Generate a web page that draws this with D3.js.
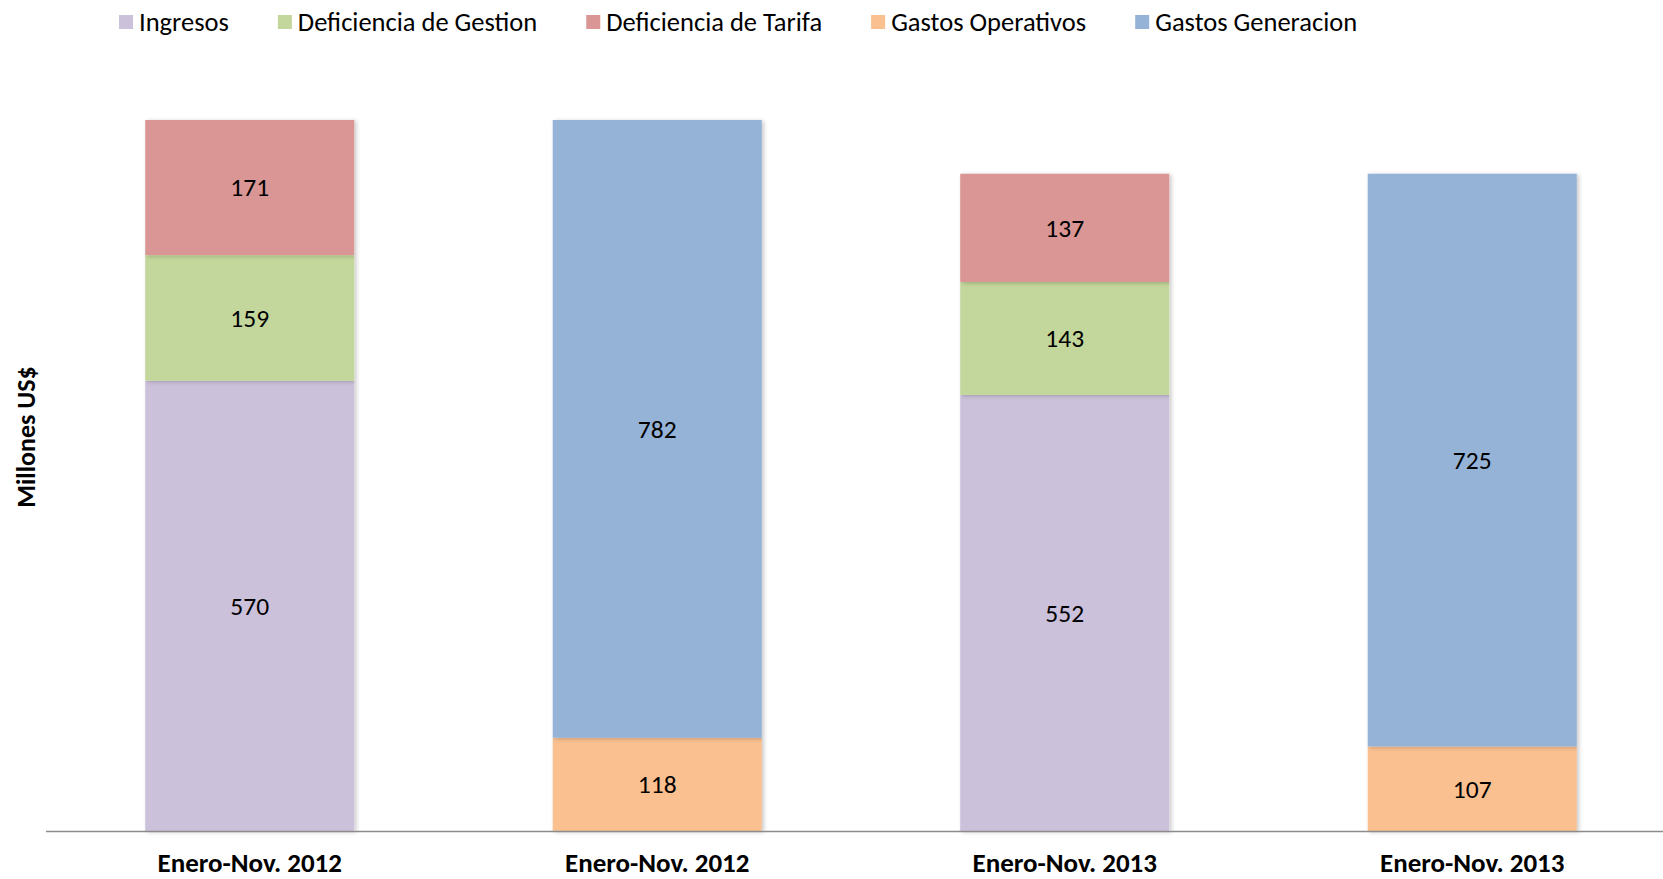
<!DOCTYPE html>
<html>
<head>
<meta charset="utf-8">
<script src="https://cdn.jsdelivr.net/npm/d3@7"></script>
<style>
  html, body { margin: 0; padding: 0; background: #fff; }
  svg { display: block; font-family: Carlito, Lato, "Open Sans", sans-serif; }
</style>
</head>
<body>
<div id="chart"></div>
<script>
// categories (x axis) and series, bottom to top of each stack
const categories = ["Enero-Nov. 2012", "Enero-Nov. 2012", "Enero-Nov. 2013", "Enero-Nov. 2013"];
const seriesNames = ["Ingresos", "Deficiencia de Gestion", "Deficiencia de Tarifa", "Gastos Operativos", "Gastos Generacion"];
const ingresos    = [570, 0, 552, 0];
const defGestion  = [159, 0, 143, 0];
const defTarifa   = [171, 0, 137, 0];
const gastosOper  = [0, 118, 0, 107];
const gastosGen   = [0, 782, 0, 725];
const seriesColors = ["#CCC1DA", "#C3D69B", "#D99694", "#FAC090", "#95B3D7"];

const W = 1663, H = 879;
const baseY = 831, topY = 120;

const rows = categories.map((c, i) => ({
  idx: i, cat: c,
  "Ingresos": ingresos[i],
  "Deficiencia de Gestion": defGestion[i],
  "Deficiencia de Tarifa": defTarifa[i],
  "Gastos Operativos": gastosOper[i],
  "Gastos Generacion": gastosGen[i]
}));

const stacked = d3.stack().keys(seriesNames)(rows);

const x = d3.scaleBand()
    .domain(rows.map(d => d.idx))
    .range([46, 1676])
    .paddingInner(0.487)
    .paddingOuter(0.2435);

const y = d3.scaleLinear()
    .domain([0, 900])
    .range([baseY, topY]);

const color = d3.scaleOrdinal().domain(seriesNames).range(seriesColors);

const svg = d3.select("#chart").append("svg")
    .attr("width", W).attr("height", H);

// soft shadow like the office chart
const defs = svg.append("defs");
const f = defs.append("filter").attr("id", "shadow")
    .attr("x", "-10%").attr("y", "-10%").attr("width", "130%").attr("height", "130%");
f.append("feDropShadow")
    .attr("dx", 2).attr("dy", 1).attr("stdDeviation", 2)
    .attr("flood-color", "#000").attr("flood-opacity", 0.22);

// bars
const layers = svg.append("g").selectAll("g")
  .data(stacked)
  .join("g")
    .attr("fill", d => color(d.key));

layers.selectAll("rect")
  .data(d => d.filter(s => s[1] - s[0] > 0))
  .join("rect")
    .attr("x", d => x(d.data.idx))
    .attr("y", d => y(d[1]))
    .attr("width", x.bandwidth())
    .attr("height", d => y(d[0]) - y(d[1]))
    .attr("filter", "url(#shadow)");

// value labels
svg.append("g").selectAll("g")
  .data(stacked)
  .join("g")
  .selectAll("text")
  .data(d => d.filter(s => s[1] - s[0] > 0))
  .join("text")
    .attr("x", d => x(d.data.idx) + x.bandwidth() / 2)
    .attr("y", d => (y(d[0]) + y(d[1])) / 2)
    .attr("dy", "0.35em")
    .attr("text-anchor", "middle")
    .attr("font-size", "25.5px")
    .attr("fill", "#000")
    .text(d => d[1] - d[0]);

// x axis line
svg.append("line")
    .attr("x1", 46).attr("x2", W)
    .attr("y1", baseY + 0.5).attr("y2", baseY + 0.5)
    .attr("stroke", "#8c8c8c").attr("stroke-width", 1.5);

// category labels
svg.append("g").selectAll("text")
  .data(rows)
  .join("text")
    .attr("x", d => x(d.idx) + x.bandwidth() / 2)
    .attr("y", 863)
    .attr("dy", "0.35em")
    .attr("text-anchor", "middle")
    .attr("font-size", "27px")
    .attr("font-weight", "bold")
    .text(d => d.cat);

// y axis title
svg.append("text")
    .attr("transform", "translate(26,437) rotate(-90)")
    .attr("dy", "0.35em")
    .attr("text-anchor", "middle")
    .attr("font-size", "26px")
    .attr("font-weight", "bold")
    .text("Millones US$");

// legend
const legend = svg.append("g").attr("transform", "translate(119,22)");
let lx = 0;
seriesNames.forEach((name, i) => {
  const g = legend.append("g").attr("transform", `translate(${lx},0)`);
  g.append("rect")
      .attr("x", 0).attr("y", -7)
      .attr("width", 14).attr("height", 14)
      .attr("fill", seriesColors[i]);
  const t = g.append("text")
      .attr("x", 20).attr("dy", "0.35em")
      .attr("font-size", "26.5px")
      .text(name);
  lx += 20 + t.node().getComputedTextLength() + 49;
});
</script>
</body>
</html>
